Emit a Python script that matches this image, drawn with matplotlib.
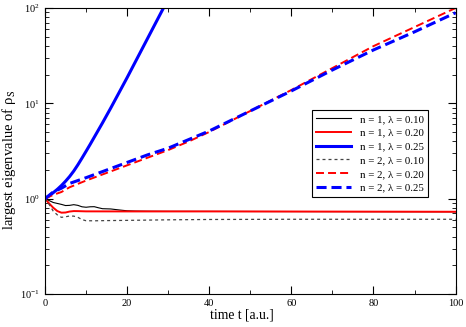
import numpy as np
import matplotlib
matplotlib.use("Agg")
import matplotlib.pyplot as plt

plt.rcParams['font.family'] = ['Liberation Serif', 'DejaVu Serif']
plt.rcParams['mathtext.fontset'] = 'stix'

# n = 1, lambda = 0.10 (thin black)
t_a = [0, 1, 2, 3, 4, 5, 6, 7, 8, 9, 10, 11, 12, 13, 14, 16, 18, 20, 22, 25, 30, 40, 60, 80, 100]
y_a = [1.0, 0.955, 0.912, 0.891, 0.871, 0.847, 0.851, 0.865, 0.851, 0.822, 0.813, 0.822, 0.824,
       0.803, 0.785, 0.780, 0.762, 0.746, 0.741, 0.738, 0.736, 0.735, 0.733, 0.731, 0.729]

# n = 1, lambda = 0.20 (red)
t_b = [0, 1, 2, 3, 4, 5, 6, 7, 8, 10, 20, 40, 60, 80, 100]
y_b = [1.0, 0.891, 0.804, 0.741, 0.713, 0.716, 0.733, 0.741, 0.740, 0.736, 0.735, 0.735, 0.733, 0.731, 0.729]

# n = 1, lambda = 0.25 (thick blue)
t_c = [0, 1, 2, 3, 4, 5, 6, 7, 8, 9, 10, 11, 12, 13, 14, 16, 18, 20, 22, 24, 26, 28, 30]
y_c = [1.0, 1.072, 1.156, 1.253, 1.374, 1.524, 1.710, 1.950, 2.265, 2.661, 3.141, 3.715, 4.416,
       5.248, 6.237, 8.913, 12.88, 18.62, 27.23, 39.81, 58.21, 85.11, 124.5]

# n = 2, lambda = 0.10 (grey dashed)
t_d = [0, 1, 2, 3, 4, 5, 6, 7, 8, 9, 10, 12, 15, 20, 30, 40, 60, 100]
y_d = [1.0, 0.871, 0.741, 0.676, 0.637, 0.646, 0.658, 0.656, 0.638, 0.603, 0.587, 0.586, 0.589,
       0.592, 0.600, 0.605, 0.608, 0.608]

# n = 2, lambda = 0.20 (red dashed)
t_e = [0, 2, 4, 6, 10, 15, 20, 25, 30, 35, 40, 50, 60, 70, 80, 90, 100]
y_e = [1.0, 1.096, 1.175, 1.318, 1.549, 1.862, 2.239, 2.692, 3.236, 3.981, 5.012, 8.318,
       13.80, 23.44, 39.81, 63.10, 100.0]

# n = 2, lambda = 0.25 (blue dashed)
t_f = [0, 2, 4, 6, 10, 15, 20, 25, 30, 35, 40, 50, 60, 70, 80, 90, 100]
y_f = [1.0, 1.175, 1.288, 1.445, 1.660, 1.995, 2.399, 2.884, 3.388, 4.169, 5.129, 8.318,
       13.49, 22.39, 36.31, 56.23, 89.13]

fig = plt.figure(figsize=(4.66, 3.27), dpi=100)
ax = fig.add_axes([0.0966, 0.1009, 0.881, 0.8746])

ax.plot(t_a, y_a, color='black', lw=0.8, label='n = 1, λ = 0.10')
ax.plot(t_b, y_b, color='#ff0000', lw=1.4, label='n = 1, λ = 0.20')
ax.plot(t_c, y_c, color='#0000ff', lw=2.2, label='n = 1, λ = 0.25')
ax.plot(t_d, y_d, color='#444444', lw=0.9, dashes=(2.4, 2.4), label='n = 2, λ = 0.10')
ax.plot(t_e, y_e, color='#ff0000', lw=1.4, dashes=(4.1, 2.1), label='n = 2, λ = 0.20')
ax.plot(t_f, y_f, color='#0000ff', lw=2.2, dashes=(3.3, 1.6), label='n = 2, λ = 0.25')

ax.set_yscale('log')
ax.set_xlim(0, 100)
ax.set_ylim(0.1, 100)
ax.set_xticks([0, 20, 40, 60, 80, 100])
ax.set_xticks([10, 30, 50, 70, 90], minor=True)
ax.tick_params(which='both', direction='in', top=True, right=True, labelsize=7.5)
ax.tick_params(which='major', length=6)
ax.tick_params(which='minor', length=3)

ax.set_xlabel('time t [a.u.]', fontsize=9.8)
ax.set_ylabel('largest eigenvalue of ρ$_\\mathrm{S}$', fontsize=10.5)
ax.xaxis.set_label_coords(0.48, -0.052)
ax.yaxis.set_label_coords(-0.066, 0.469)

leg = ax.legend(loc='upper left', bbox_to_anchor=(0.650, 0.643), fontsize=7.8,
                frameon=True, fancybox=False, edgecolor='black', framealpha=1,
                borderaxespad=0, handlelength=3.2, labelspacing=0.38)
leg.get_frame().set_linewidth(0.8)

fig.savefig('out.png', dpi=100)
